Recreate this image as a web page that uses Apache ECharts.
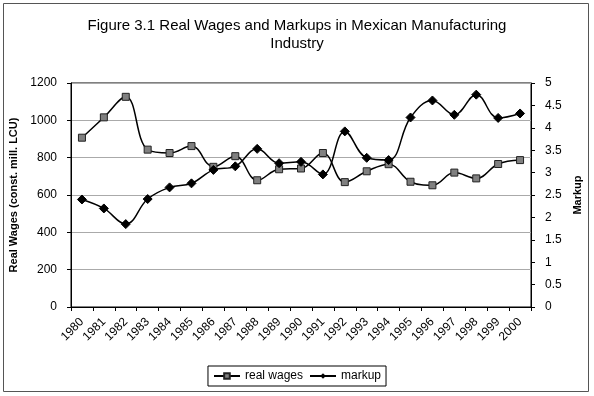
<!DOCTYPE html>
<html>
<head>
<meta charset="utf-8">
<script src="https://cdn.jsdelivr.net/npm/echarts@6/dist/echarts.min.js"></script>
<style>
  html, body { margin: 0; padding: 0; background: #fff; }
  #chart { width: 594px; height: 396px; }
</style>
</head>
<body>
<div id="chart"></div>
<script>
const years = ['1980', '1981', '1982', '1983', '1984', '1985', '1986', '1987', '1988', '1989', '1990',
  '1991', '1992', '1993', '1994', '1995', '1996', '1997', '1998', '1999', '2000']
const realWages = [907, 1016, 1126, 843, 825, 862, 751, 808, 679, 738, 742,
  825, 669, 727, 765, 671, 652, 720, 689, 766, 787]
const markup = [2.40, 2.20, 1.85, 2.41, 2.67, 2.76, 3.06, 3.14, 3.53, 3.21, 3.24,
  2.96, 3.92, 3.33, 3.28, 4.23, 4.61, 4.29, 4.74, 4.22, 4.32]

const chart = echarts.init(document.getElementById('chart'))
const font = 'Liberation Sans, Arial, sans-serif'

const option = {
  animation: false,
  textStyle: { fontFamily: font, color: '#000' },
  title: {
    text: 'Figure 3.1 Real Wages and Markups in Mexican Manufacturing\nIndustry',
    left: 'center',
    top: 12,
    textStyle: { fontSize: 15, fontWeight: 'normal', color: '#000', lineHeight: 18, fontFamily: font }
  },
  graphic: [{
    type: 'rect',
    shape: { x: 3.5, y: 3.5, width: 585, height: 388 },
    style: { fill: 'none', stroke: '#555', lineWidth: 1 },
    silent: true
  }],
  legend: {
    bottom: 10,
    left: 'center',
    itemWidth: 26,
    itemHeight: 7,
    itemGap: 6,
    padding: [4, 5],
    borderColor: '#000',
    borderWidth: 1,
    textStyle: { fontSize: 12, color: '#000', fontFamily: font },
    data: ['real wages', 'markup']
  },
  grid: {
    left: 71,
    right: 63,
    top: 83,
    bottom: 89,
    show: true,
    borderColor: '#000',
    borderWidth: 1
  },
  xAxis: {
    type: 'category',
    data: years,
    boundaryGap: true,
    axisLine: { lineStyle: { color: '#000' } },
    axisTick: { show: true, length: 4, lineStyle: { color: '#000' } },
    axisLabel: { rotate: 45, fontSize: 12, color: '#000', margin: 13, interval: 0 }
  },
  yAxis: [{
    type: 'value',
    min: 0,
    max: 1200,
    interval: 200,
    name: 'Real Wages (const. mill. LCU)',
    nameLocation: 'middle',
    nameGap: 44,
    nameTextStyle: { fontWeight: 'bold', fontSize: 11, color: '#000' },
    axisLine: { show: true, lineStyle: { color: '#000' } },
    axisTick: { show: true, length: 4, lineStyle: { color: '#000' } },
    axisLabel: { fontSize: 12, color: '#000', margin: 14, formatter: v => String(v) },
    splitLine: { lineStyle: { color: '#aaa', width: 1 } }
  }, {
    type: 'value',
    min: 0,
    max: 5,
    interval: 0.5,
    position: 'right',
    name: 'Markup',
    nameLocation: 'middle',
    nameGap: 37,
    nameTextStyle: { fontWeight: 'bold', fontSize: 11, color: '#000' },
    axisLine: { show: true, lineStyle: { color: '#000' } },
    axisTick: { show: true, length: 4, lineStyle: { color: '#000' } },
    axisLabel: { fontSize: 12, color: '#000', margin: 14 },
    splitLine: { show: false }
  }],
  series: [{
    name: 'real wages',
    type: 'line',
    yAxisIndex: 0,
    data: realWages,
    smooth: 0.4,
    symbol: 'rect',
    symbolSize: 7,
    lineStyle: { color: '#000', width: 1.5 },
    itemStyle: { color: '#808080', borderColor: '#222', borderWidth: 1 }
  }, {
    name: 'markup',
    type: 'line',
    yAxisIndex: 1,
    data: markup,
    smooth: 0.4,
    symbol: 'diamond',
    symbolSize: 9,
    lineStyle: { color: '#000', width: 1.5 },
    itemStyle: { color: '#000', borderColor: '#000' }
  }]
}

chart.setOption(option)
</script>
</body>
</html>
